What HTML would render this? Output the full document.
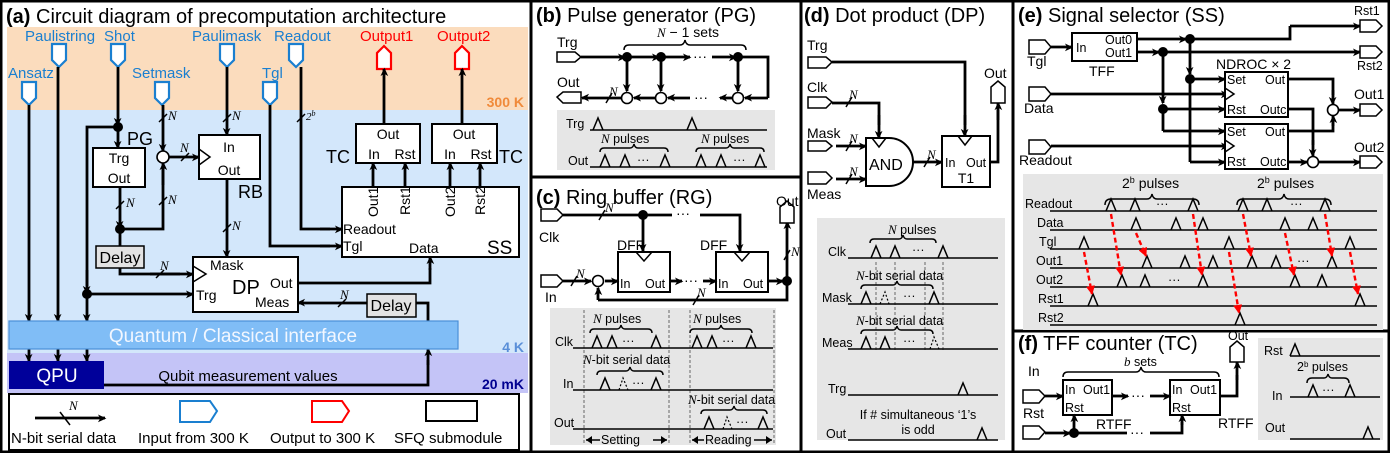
<!DOCTYPE html>
<html><head><meta charset="utf-8"><style>
html,body{margin:0;padding:0;background:#fff}
svg{display:block;font-family:"Liberation Sans",sans-serif}
</style></head><body>
<svg width="1390" height="453" viewBox="0 0 1390 453" xmlns="http://www.w3.org/2000/svg">
<defs>
<marker id="a" viewBox="0 0 10 10" refX="9" refY="5" markerWidth="7" markerHeight="7" orient="auto" markerUnits="userSpaceOnUse" style="overflow:visible"><path d="M-1,0 L10,5 L-1,10 L2,5 z" fill="#000" transform="scale(1.1)"/></marker>
<marker id="r" viewBox="0 0 10 10" refX="9" refY="5" markerWidth="9" markerHeight="9" orient="auto" markerUnits="userSpaceOnUse"><path d="M0,0 L10,5 L0,10 z" fill="#f00"/></marker>
</defs>
<style>
.w{stroke:#000;stroke-width:2.8;fill:none}
.wa{stroke:#000;stroke-width:2.8;fill:none;marker-end:url(#a)}
.t{stroke:#000;stroke-width:1.5;fill:none}
.bx{fill:#fff;stroke:#000;stroke-width:2}
.bi{fill:#fff;stroke:#1a7fd0;stroke-width:2.2}
.ro{fill:#fff;stroke:#f00;stroke-width:2.2}
.pin{fill:#fff;stroke:#000;stroke-width:1.5}
.d{fill:#000}
.c{fill:#fff;stroke:#000;stroke-width:1.6}
.bl{fill:#1a7fd0;font-size:15px}
.rd{fill:#f00;font-size:15px}
.l{font-size:14px}
.s{font-size:12.5px}
.i{font-family:"Liberation Serif",serif;font-style:italic;font-size:13px}
.g{fill:#e6e6e6}
.p{stroke:#000;stroke-width:1.5;fill:none}
.pd{stroke:#000;stroke-width:1.2;fill:none;stroke-dasharray:2,2}
.dv{stroke:#666;stroke-width:1;stroke-dasharray:3,2}
.rr{stroke:#f00;stroke-width:2.4;stroke-dasharray:5,3;fill:none;marker-end:url(#r)}
</style>
<rect x="1" y="1" width="1388" height="451" fill="none" stroke="#000" stroke-width="3"/>
<line x1="531" y1="0" x2="531" y2="453" stroke="#000" stroke-width="3"/>
<line x1="801" y1="0" x2="801" y2="453" stroke="#000" stroke-width="3"/>
<line x1="1013" y1="0" x2="1013" y2="453" stroke="#000" stroke-width="3"/>
<line x1="531" y1="177" x2="801" y2="177" stroke="#000" stroke-width="3"/>
<line x1="1013" y1="331" x2="1390" y2="331" stroke="#000" stroke-width="3"/>

<!-- ===== Panel A ===== -->
<text x="6" y="23" font-size="20"><tspan font-weight="bold">(a)</tspan> Circuit diagram of precomputation architecture</text>
<rect x="7" y="27" width="521" height="83" fill="#fbdcbd"/>
<rect x="7" y="110" width="521" height="243" fill="#d3e7fb"/>
<rect x="7" y="353" width="521" height="40" fill="#c4c4f7"/>
<text x="524" y="107" text-anchor="end" font-size="14" font-weight="bold" fill="#f08a3a">300 K</text>
<text x="524" y="352" text-anchor="end" font-size="14" font-weight="bold" fill="#5a8fd8">4 K</text>
<text x="524" y="389" text-anchor="end" font-size="14" font-weight="bold" fill="#000090">20 mK</text>

<text x="25" y="41" class="bl">Paulistring</text>
<text x="104" y="41" class="bl">Shot</text>
<text x="192" y="41" class="bl">Paulimask</text>
<text x="274" y="41" class="bl">Readout</text>
<text x="8" y="78" class="bl">Ansatz</text>
<text x="132" y="78" class="bl">Setmask</text>
<text x="262" y="78" class="bl">Tgl</text>
<text x="360" y="41" class="rd">Output1</text>
<text x="437" y="41" class="rd">Output2</text>
<g class="bi">
<polygon points="52,44 66,44 66,60 59,67 52,60"/>
<polygon points="111,44 125,44 125,60 118,67 111,60"/>
<polygon points="220,44 234,44 234,60 227,67 220,60"/>
<polygon points="289,44 303,44 303,60 296,67 289,60"/>
<polygon points="22,82 36,82 36,98 29,105 22,98"/>
<polygon points="155,82 169,82 169,98 162,105 155,98"/>
<polygon points="263,82 277,82 277,98 270,105 263,98"/>
</g>
<g class="ro">
<polygon points="377,69 391,69 391,53 384,46 377,53"/>
<polygon points="455,69 469,69 469,53 462,46 455,53"/>
</g>
<path class="wa" d="M29,105 V321"/>
<path class="wa" d="M58,67 V321"/>
<path class="wa" d="M118,67 V125"/>
<path class="w" d="M118,127 H87 V286"/>
<path class="wa" d="M87,270 V293"/>
<path class="wa" d="M87,294 V321"/>
<path class="wa" d="M87,294 H193"/>
<path class="wa" d="M29,349 V361"/><path class="wa" d="M58,349 V361"/><path class="wa" d="M87,349 V361"/>
<path class="wa" d="M118,127 V148"/>
<path class="wa" d="M120,187 V228"/>
<path class="w" d="M120,229 V246"/>
<path class="w" d="M120,229 H163 V165"/>
<path class="wa" d="M163,185 V163"/>
<path class="wa" d="M163,105 V151"/>
<path class="wa" d="M169,157 H199"/>
<path class="wa" d="M227,67 V135"/>
<path class="wa" d="M227,179 V257"/>
<path class="w" d="M120,268 V274 H180"/>
<path class="wa" d="M150,274 H193"/>
<path class="w" d="M270,105 V246 H330"/>
<path class="wa" d="M320,246 H342"/>
<path class="w" d="M301,67 V229 H330"/>
<path class="wa" d="M320,229 H342"/>
<path class="wa" d="M384,124 V69"/>
<path class="wa" d="M462,124 V69"/>
<path class="wa" d="M373,187 V163"/><path class="wa" d="M405,187 V163"/>
<path class="wa" d="M450,187 V163"/><path class="wa" d="M480,187 V163"/>
<path class="w" d="M298,283 H430 V268"/>
<path class="wa" d="M430,270 V257"/>
<path class="w" d="M428,321 V303 H416"/>
<path class="wa" d="M367,303 H298"/>
<path class="w" d="M104,385 H428 V360"/>
<path class="wa" d="M428,365 V349"/>
<circle cx="118" cy="127" r="5" class="d"/>
<circle cx="120" cy="229" r="5" class="d"/>
<circle cx="87" cy="294" r="5" class="d"/>
<circle cx="163" cy="157" r="6" class="c"/>
<g class="t">
<line x1="159" y1="122" x2="167" y2="114"/><line x1="223" y1="122" x2="231" y2="114"/>
<line x1="297" y1="122" x2="305" y2="114"/><line x1="116" y1="209" x2="124" y2="201"/>
<line x1="159" y1="205" x2="167" y2="197"/><line x1="181" y1="161" x2="189" y2="153"/>
<line x1="223" y1="232" x2="231" y2="224"/><line x1="156" y1="278" x2="164" y2="270"/>
<line x1="338" y1="307" x2="346" y2="299"/>
</g>
<g class="i">
<text x="168" y="120">N</text><text x="232" y="120">N</text><text x="126" y="207">N</text>
<text x="168" y="204">N</text><text x="180" y="152">N</text><text x="232" y="230">N</text>
<text x="160" y="270">N</text><text x="340" y="299">N</text>
<text x="306" y="120" font-size="11">2<tspan baseline-shift="super" font-size="8">b</tspan></text>
</g>
<rect x="93" y="148" width="52" height="39" class="bx"/>
<text x="119" y="163" class="l" text-anchor="middle">Trg</text>
<text x="119" y="183" class="l" text-anchor="middle">Out</text>
<text x="127" y="145" font-size="18">PG</text>
<rect x="199" y="135" width="61" height="44" class="bx"/>
<polyline points="199,149 210,157 199,165" class="t"/>
<text x="229" y="152" class="l" text-anchor="middle">In</text>
<text x="229" y="175" class="l" text-anchor="middle">Out</text>
<text x="238" y="198" font-size="18">RB</text>
<rect x="96" y="246" width="48" height="22" fill="#e3e3e3" stroke="#000" stroke-width="1.5"/>
<text x="120" y="263" font-size="16" text-anchor="middle">Delay</text>
<rect x="367" y="294" width="49" height="23" fill="#e3e3e3" stroke="#000" stroke-width="1.5"/>
<text x="391" y="311" font-size="16" text-anchor="middle">Delay</text>
<rect x="193" y="257" width="105" height="55" class="bx"/>
<polyline points="193,266 206,274 193,282" class="t"/>
<text x="210" y="270" class="l">Mask</text>
<text x="232" y="294" font-size="20">DP</text>
<text x="270" y="288" class="l">Out</text>
<text x="196" y="300" class="l">Trg</text>
<text x="255" y="307" class="l">Meas</text>
<rect x="356" y="124" width="64" height="39" class="bx"/>
<text x="388" y="139" class="l" text-anchor="middle">Out</text>
<text x="374" y="159" class="l" text-anchor="middle">In</text><text x="405" y="159" class="l" text-anchor="middle">Rst</text>
<text x="326" y="163" font-size="18">TC</text>
<rect x="432" y="124" width="65" height="39" class="bx"/>
<text x="464" y="139" class="l" text-anchor="middle">Out</text>
<text x="450" y="159" class="l" text-anchor="middle">In</text><text x="481" y="159" class="l" text-anchor="middle">Rst</text>
<text x="499" y="163" font-size="18">TC</text>
<rect x="342" y="187" width="177" height="70" class="bx"/>
<g class="l">
<text transform="translate(378,217) rotate(-90)">Out1</text>
<text transform="translate(410,215) rotate(-90)">Rst1</text>
<text transform="translate(455,217) rotate(-90)">Out2</text>
<text transform="translate(485,215) rotate(-90)">Rst2</text>
<text x="343" y="234">Readout</text><text x="343" y="251">Tgl</text><text x="409" y="253">Data</text>
</g>
<text x="487" y="254" font-size="19">SS</text>
<rect x="9" y="321" width="449" height="28" fill="#80bdf6" stroke="#4a8fd8" stroke-width="1.2"/>
<text x="233" y="342" font-size="19" fill="#f2f7ff" text-anchor="middle">Quantum / Classical interface</text>
<rect x="9" y="361" width="95" height="28" fill="#00009a"/>
<text x="57" y="382" font-size="19" fill="#fff" text-anchor="middle">QPU</text>
<text x="248" y="381" font-size="15" text-anchor="middle">Qubit measurement values</text>
<rect x="9" y="394" width="510" height="56" fill="#fff" stroke="#000" stroke-width="2"/>
<path class="wa" d="M35,418 H105"/><line x1="60" y1="412" x2="70" y2="425" class="t"/>
<text x="69" y="410" class="i" font-size="15">N</text>
<text x="11" y="443" font-size="15">N-bit serial data</text>
<polygon points="180,401 210,401 217,411 210,422 180,422" fill="#fff" stroke="#1a7fd0" stroke-width="2"/>
<text x="138" y="443" font-size="15">Input from 300 K</text>
<polygon points="312,401 342,401 349,411 342,422 312,422" fill="#fff" stroke="#f00" stroke-width="2"/>
<text x="270" y="443" font-size="15">Output to 300 K</text>
<rect x="426" y="401" width="51" height="20" class="bx"/>
<text x="394" y="443" font-size="15">SFQ submodule</text>

<!-- ===== Panel B ===== -->
<text x="536" y="22" font-size="20"><tspan font-weight="bold">(b)</tspan> Pulse generator (PG)</text>
<text x="557" y="47" class="l">Trg</text><text x="557" y="87" class="l">Out</text>
<polygon points="557,52 575,52 581,57 575,62 557,62" class="pin"/>
<polygon points="563,92 581,92 581,103 563,103 557,97" class="pin"/>
<path class="wa" d="M581,57 H625"/><path class="wa" d="M627,57 H659"/><path class="wa" d="M661,57 H690"/>
<text x="693" y="61" class="l">···</text>
<path class="wa" d="M712,57 H736"/>
<path class="w" d="M738,57 H768 V98"/><path class="wa" d="M768,98 H745"/>
<path class="wa" d="M627,57 V91"/><path class="wa" d="M661,57 V91"/><path class="wa" d="M738,57 V91"/>
<path class="wa" d="M732,98 H720"/><text x="694" y="102" class="l">···</text>
<path class="wa" d="M690,98 H668"/><path class="wa" d="M655,98 H634"/><path class="wa" d="M621,98 H582"/>
<line x1="606" y1="103" x2="612" y2="93" class="t"/><text x="609" y="96" class="i" font-size="11">N</text>
<circle cx="627" cy="57" r="5" class="d"/><circle cx="661" cy="57" r="5" class="d"/><circle cx="738" cy="57" r="5" class="d"/>
<circle cx="627" cy="98" r="5.5" class="c"/><circle cx="661" cy="98" r="5.5" class="c"/><circle cx="738" cy="98" r="5.5" class="c"/>
<path class="t" d="M624,50 q0,-5 5,-5 h51 q4,0 5,-5 q1,5 5,5 h51 q5,0 5,5"/>
<text x="657" y="37" class="l"><tspan class="i">N</tspan> − 1 sets</text>
<rect x="557" y="110" width="218" height="60" class="g"/>
<text x="566" y="128" class="s">Trg</text><line x1="590" y1="130" x2="767" y2="130" class="p"/>
<path class="p" d="M593,130 L598,118 L603,130 M687,130 L692,118 L697,130"/>
<text x="568" y="165" class="s">Out</text><line x1="590" y1="167" x2="767" y2="167" class="p"/>
<path class="p" d="M600,167 L605,155 L610,167 M620,167 L625,155 L630,167 M660,167 L665,155 L670,167 M696,167 L701,155 L706,167 M716,167 L721,155 L726,167 M755,167 L760,155 L765,167"/>
<text x="637" y="164" class="s">···</text><text x="733" y="164" class="s">···</text>
<path class="t" d="M600,152 q0,-4 4,-4 h26 q3,0 4,-4 q1,4 4,4 h26 q4,0 4,4 M696,152 q0,-4 4,-4 h26 q3,0 4,-4 q1,4 4,4 h26 q4,0 4,4"/>
<text x="601" y="143" class="s"><tspan class="i">N</tspan> pulses</text><text x="701" y="143" class="s"><tspan class="i">N</tspan> pulses</text>

<!-- ===== Panel C ===== -->
<text x="536" y="204" font-size="20"><tspan font-weight="bold">(c)</tspan> Ring buffer (RG)</text>
<polygon points="541,209 557,209 563,215 557,221 541,221" class="pin"/>
<text x="539" y="242" class="l">Clk</text>
<polygon points="541,275 557,275 563,281 557,287 541,287" class="pin"/>
<text x="545" y="302" class="l">In</text>
<path class="w" d="M563,215 H672"/><text x="676" y="218" class="l">···</text>
<path class="w" d="M700,215 H740 V240"/><path class="wa" d="M740,230 V251"/>
<path class="wa" d="M643,215 V251"/>
<circle cx="643" cy="215" r="5" class="d"/>
<line x1="599" y1="220" x2="605" y2="210" class="t"/><text x="605" y="212" class="i" font-size="11">N</text>
<text x="617" y="250" class="l">DFF</text><text x="700" y="250" class="l">DFF</text>
<rect x="618" y="252" width="52" height="40" class="bx"/>
<rect x="716" y="252" width="52" height="40" class="bx"/>
<polyline points="636,252 644,261 652,252" class="t"/><polyline points="734,252 742,261 750,252" class="t"/>
<text x="620" y="288" class="s">In</text><text x="645" y="288" class="s">Out</text>
<text x="718" y="288" class="s">In</text><text x="743" y="288" class="s">Out</text>
<path class="wa" d="M563,281 H591"/><path class="wa" d="M605,281 H618"/>
<line x1="571" y1="286" x2="577" y2="276" class="t"/><text x="576" y="278" class="i" font-size="11">N</text>
<path class="wa" d="M670,281 H682"/><text x="684" y="285" class="l">···</text><path class="wa" d="M703,281 H716"/>
<path class="wa" d="M768,281 H783"/>
<path class="w" d="M787,281 V300 H598"/><path class="wa" d="M598,300 V288"/>
<line x1="693" y1="305" x2="699" y2="295" class="t"/><text x="697" y="297" class="i" font-size="11">N</text>
<path class="wa" d="M787,281 V222"/>
<line x1="784" y1="260" x2="790" y2="250" class="t"/><text x="791" y="256" class="i" font-size="11">N</text>
<circle cx="787" cy="281" r="5" class="d"/><circle cx="598" cy="281" r="5.5" class="c"/>
<polygon points="780,223 794,223 794,207 787,201 780,207" class="pin"/>
<text x="776" y="206" class="l">Out</text>
<rect x="550" y="308" width="226" height="137" class="g"/>
<g class="dv"><line x1="584" y1="310" x2="584" y2="445"/><line x1="669" y1="310" x2="669" y2="445"/><line x1="690" y1="310" x2="690" y2="445"/><line x1="774" y1="310" x2="774" y2="445"/></g>
<text x="555" y="346" class="s">Clk</text><line x1="573" y1="348" x2="773" y2="348" class="p"/>
<path class="p" d="M592,348 L597,336 L602,348 M607,348 L612,336 L617,348 M651,348 L656,336 L661,348 M692,348 L697,336 L702,348 M707,348 L712,336 L717,348 M746,348 L751,336 L756,348"/>
<text x="622" y="345" class="s">···</text><text x="722" y="345" class="s">···</text>
<path class="t" d="M590,333 q0,-4 4,-4 h23 q3,0 4,-4 q1,4 4,4 h23 q4,0 4,4 M690,333 q0,-4 4,-4 h23 q3,0 4,-4 q1,4 4,4 h23 q4,0 4,4"/>
<text x="593" y="323" class="s"><tspan class="i">N</tspan> pulses</text><text x="693" y="323" class="s"><tspan class="i">N</tspan> pulses</text>
<text x="563" y="388" class="s">In</text><line x1="573" y1="390" x2="773" y2="390" class="p"/>
<path class="p" d="M600,390 L605,378 L610,390 M651,390 L656,378 L661,390"/><path class="pd" d="M619,390 L623,378 L628,390"/>
<text x="632" y="387" class="s">···</text>
<path class="t" d="M597,375 q0,-4 4,-4 h25 q3,0 4,-4 q1,4 4,4 h25 q4,0 4,4"/>
<text x="583" y="364" class="s"><tspan class="i">N</tspan>-bit serial data</text>
<text x="554" y="427" class="s">Out</text><line x1="573" y1="429" x2="773" y2="429" class="p"/>
<path class="p" d="M704,429 L709,417 L714,429 M758,429 L763,417 L768,429"/><path class="pd" d="M723,429 L727,417 L732,429"/>
<text x="736" y="426" class="s">···</text>
<path class="t" d="M701,414 q0,-4 4,-4 h25 q3,0 4,-4 q1,4 4,4 h25 q4,0 4,4"/>
<text x="688" y="404" class="s"><tspan class="i">N</tspan>-bit serial data</text>
<path class="t" d="M586,440 H600 M653,440 H667 M692,440 H704 M754,440 H772" stroke-width="2"/>
<path d="M586,440 l6,-4 v8z M667,440 l-6,-4 v8z M692,440 l6,-4 v8z M772,440 l-6,-4 v8z"/>
<text x="601" y="444" class="s">Setting</text><text x="705" y="444" class="s">Reading</text>

<!-- ===== Panel D ===== -->
<text x="804" y="22" font-size="20"><tspan font-weight="bold">(d)</tspan> Dot product (DP)</text>
<text x="807" y="50" class="l">Trg</text>
<polygon points="808,57 826,57 832,62 826,68 808,68" class="pin"/>
<text x="807" y="92" class="l">Clk</text>
<polygon points="808,97 826,97 832,102 826,108 808,108" class="pin"/>
<text x="807" y="138" class="l">Mask</text>
<polygon points="808,141 826,141 832,146 826,151 808,151" class="pin"/>
<polygon points="808,172 826,172 832,178 826,184 808,184" class="pin"/>
<text x="807" y="199" class="l">Meas</text>
<path class="w" d="M832,62 H965 V125"/><path class="wa" d="M965,115 V136"/>
<path class="w" d="M832,103 H879 V125"/><path class="wa" d="M879,115 V138"/>
<line x1="846" y1="107" x2="852" y2="97" class="t"/><text x="849" y="99" class="i" font-size="11">N</text>
<path class="wa" d="M836,146 H866"/><line x1="846" y1="151" x2="852" y2="141" class="t"/><text x="849" y="143" class="i" font-size="11">N</text>
<path class="wa" d="M836,179 H866"/><line x1="846" y1="184" x2="852" y2="174" class="t"/><text x="849" y="176" class="i" font-size="11">N</text>
<path d="M866,138 H889 A24,24 0 0 1 889,186 H866 Z" class="bx"/>
<polyline points="872,138 879,147 886,138" class="t"/>
<text x="869" y="170" font-size="16">AND</text>
<path class="wa" d="M913,162 H942"/><line x1="924" y1="167" x2="930" y2="157" class="t"/><text x="927" y="159" class="i" font-size="11">N</text>
<rect x="942" y="136" width="48" height="51" class="bx"/>
<polyline points="958,136 965,145 972,136" class="t"/>
<text x="945" y="167" class="s">In</text><text x="966" y="167" class="s">Out</text>
<text x="966" y="183" class="l" text-anchor="middle">T1</text>
<path class="w" d="M990,162 H998 V110"/><path class="wa" d="M998,120 V103"/>
<polygon points="991,103 1005,103 1005,87 998,81 991,87" class="pin"/>
<text x="984" y="78" class="l">Out</text>
<rect x="817" y="218" width="188" height="222" class="g"/>
<g class="dv"><line x1="876" y1="262" x2="876" y2="350"/><line x1="895" y1="262" x2="895" y2="350"/><line x1="925" y1="262" x2="925" y2="350"/><line x1="943" y1="262" x2="943" y2="350"/></g>
<text x="828" y="256" class="s">Clk</text><line x1="848" y1="258" x2="998" y2="258" class="p"/>
<path class="p" d="M871,258 L876,246 L881,258 M890,258 L895,246 L900,258 M938,258 L943,246 L948,258"/><text x="912" y="254" class="s">···</text>
<path class="t" d="M870,243 q0,-4 4,-4 h25 q3,0 4,-4 q1,4 4,4 h25 q4,0 4,4"/>
<text x="888" y="234" class="s"><tspan class="i">N</tspan> pulses</text>
<text x="822" y="302" class="s">Mask</text><line x1="848" y1="304" x2="998" y2="304" class="p"/>
<path class="p" d="M861,304 L866,292 L871,304 M929,304 L934,292 L939,304"/><path class="pd" d="M880,304 L885,292 L889,304"/><text x="903" y="300" class="s">···</text>
<path class="t" d="M861,289 q0,-4 4,-4 h28 q3,0 4,-4 q1,4 4,4 h28 q4,0 4,4"/>
<text x="856" y="280" class="s"><tspan class="i">N</tspan>-bit serial data</text>
<text x="822" y="347" class="s">Meas</text><line x1="848" y1="349" x2="998" y2="349" class="p"/>
<path class="p" d="M861,349 L866,337 L871,349 M880,349 L885,337 L890,349"/><path class="pd" d="M930,349 L934,337 L939,349"/><text x="903" y="345" class="s">···</text>
<path class="t" d="M861,334 q0,-4 4,-4 h28 q3,0 4,-4 q1,4 4,4 h28 q4,0 4,4"/>
<text x="856" y="325" class="s"><tspan class="i">N</tspan>-bit serial data</text>
<text x="828" y="393" class="s">Trg</text><line x1="848" y1="395" x2="998" y2="395" class="p"/>
<path class="p" d="M958,395 L963,383 L968,395"/>
<text x="918" y="419" class="s" text-anchor="middle">If # simultaneous ‘1’s</text>
<text x="918" y="434" class="s" text-anchor="middle">is odd</text>
<text x="826" y="438" class="s">Out</text><line x1="848" y1="440" x2="998" y2="440" class="p"/>
<path class="p" d="M977,440 L982,428 L987,440"/>

<!-- ===== Panel E ===== -->
<text x="1018" y="22" font-size="20"><tspan font-weight="bold">(e)</tspan> Signal selector (SS)</text>
<polygon points="1029,40 1045,40 1051,47 1045,54 1029,54" class="pin"/><text x="1027" y="66" class="l">Tgl</text>
<polygon points="1029,87 1045,87 1051,94 1045,101 1029,101" class="pin"/><text x="1024" y="113" class="l">Data</text>
<polygon points="1029,140 1045,140 1051,147 1045,154 1029,154" class="pin"/><text x="1019" y="165" class="l">Readout</text>
<path class="wa" d="M1051,47 H1072"/>
<rect x="1072" y="33" width="65" height="28" class="bx"/>
<text x="1076" y="52" class="s">In</text><text x="1105" y="44" class="s">Out0</text><text x="1105" y="57" class="s">Out1</text>
<text x="1089" y="76" class="l">TFF</text>
<path class="wa" d="M1137,39 H1186"/><path class="wa" d="M1137,52 H1159"/>
<path class="w" d="M1190,39 H1290 V26"/><path class="wa" d="M1290,26 H1360"/>
<path class="wa" d="M1163,52 H1360"/>
<path class="wa" d="M1190,39 V74"/><path class="wa" d="M1190,79 H1225"/>
<path class="w" d="M1190,79 V162"/><path class="wa" d="M1190,162 H1225"/>
<path class="wa" d="M1163,52 V103"/><path class="wa" d="M1163,109 H1225"/>
<path class="w" d="M1163,109 V131"/><path class="wa" d="M1163,131 H1225"/>
<path class="wa" d="M1051,94 H1228"/><path class="wa" d="M1051,146 H1228"/>
<circle cx="1190" cy="39" r="5" class="d"/><circle cx="1163" cy="52" r="5" class="d"/>
<circle cx="1190" cy="79" r="5" class="d"/><circle cx="1163" cy="109" r="5" class="d"/>
<rect x="1225" y="72" width="63" height="45" class="bx"/>
<rect x="1225" y="124" width="63" height="45" class="bx"/>
<polyline points="1225,88 1234,94 1225,100" class="t"/><polyline points="1225,140 1234,146 1225,152" class="t"/>
<text x="1216" y="69" class="l">NDROC × 2</text>
<g class="s"><text x="1227" y="84">Set</text><text x="1265" y="84">Out</text><text x="1227" y="114">Rst</text><text x="1260" y="114">Outc</text>
<text x="1227" y="136">Set</text><text x="1265" y="136">Out</text><text x="1227" y="166">Rst</text><text x="1260" y="166">Outc</text></g>
<path class="w" d="M1288,79 H1333 V95"/><path class="wa" d="M1333,90 V104"/>
<path class="w" d="M1288,131 H1333 V122"/><path class="wa" d="M1333,126 V116"/>
<path class="w" d="M1288,109 H1313 V145"/><path class="wa" d="M1313,140 V156"/>
<path class="wa" d="M1288,162 H1307"/>
<path class="wa" d="M1339,110 H1360"/><path class="wa" d="M1319,162 H1360"/>
<circle cx="1333" cy="110" r="5.5" class="c"/><circle cx="1313" cy="162" r="5.5" class="c"/>
<polygon points="1360,20 1376,20 1382,26 1376,32 1360,32" class="pin"/><text x="1354" y="15" class="s">Rst1</text>
<polygon points="1360,46 1376,46 1382,52 1376,58 1360,58" class="pin"/><text x="1357" y="70" class="s">Rst2</text>
<polygon points="1360,104 1376,104 1382,110 1376,116 1360,116" class="pin"/><text x="1354" y="99" class="l">Out1</text>
<polygon points="1360,156 1376,156 1382,162 1376,168 1360,168" class="pin"/><text x="1354" y="152" class="l">Out2</text>
<rect x="1023" y="174" width="360" height="156" class="g"/>
<g class="s">
<text x="1025" y="208">Readout</text><text x="1037" y="227">Data</text><text x="1039" y="246">Tgl</text>
<text x="1036" y="265">Out1</text><text x="1036" y="284">Out2</text><text x="1038" y="303">Rst1</text><text x="1038" y="322">Rst2</text>
</g>
<g class="p">
<line x1="1050" y1="211" x2="1377" y2="211"/><line x1="1050" y1="230" x2="1377" y2="230"/><line x1="1050" y1="249" x2="1377" y2="249"/>
<line x1="1050" y1="268" x2="1377" y2="268"/><line x1="1050" y1="287" x2="1377" y2="287"/><line x1="1050" y1="306" x2="1377" y2="306"/><line x1="1050" y1="325" x2="1377" y2="325"/>
<path d="M1106,211 l5,-12 l5,12 M1130,211 l5,-12 l5,12 M1188,211 l5,-12 l5,12 M1238,211 l5,-12 l5,12 M1262,211 l5,-12 l5,12 M1320,211 l5,-12 l5,12"/>
<path d="M1131,230 l5,-12 l5,12 M1171,230 l5,-12 l5,12 M1198,230 l5,-12 l5,12 M1280,230 l5,-12 l5,12 M1308,230 l5,-12 l5,12"/>
<path d="M1079,249 l5,-12 l5,12 M1224,249 l5,-12 l5,12 M1345,249 l5,-12 l5,12"/>
<path d="M1142,268 l5,-12 l5,12 M1180,268 l5,-12 l5,12 M1208,268 l5,-12 l5,12 M1247,268 l5,-12 l5,12 M1271,268 l5,-12 l5,12 M1327,268 l5,-12 l5,12"/>
<path d="M1117,287 l5,-12 l5,12 M1140,287 l5,-12 l5,12 M1198,287 l5,-12 l5,12 M1290,287 l5,-12 l5,12 M1317,287 l5,-12 l5,12"/>
<path d="M1088,306 l5,-12 l5,12 M1355,306 l5,-12 l5,12"/>
<path d="M1235,325 l5,-12 l5,12"/>
</g>
<g class="s"><text x="1156" y="208">···</text><text x="1290" y="208">···</text><text x="1297" y="265">···</text><text x="1168" y="284">···</text></g>
<path class="t" d="M1105,205 q0,-6 6,-6 h36 q4,0 5,-5 q1,5 5,5 h36 q6,0 6,6 M1237,205 q0,-6 6,-6 h36 q4,0 5,-5 q1,5 5,5 h36 q6,0 6,6"/>
<text x="1122" y="188" class="l">2<tspan baseline-shift="super" font-size="9">b</tspan> pulses</text>
<text x="1257" y="188" class="l">2<tspan baseline-shift="super" font-size="9">b</tspan> pulses</text>
<path class="rr" d="M1084,252 L1092,294"/><path class="rr" d="M1111,214 L1121,275"/><path class="rr" d="M1136,233 L1146,256"/>
<path class="rr" d="M1193,214 L1202,275"/><path class="rr" d="M1229,252 L1239,313"/><path class="rr" d="M1243,214 L1251,256"/>
<path class="rr" d="M1285,233 L1294,275"/><path class="rr" d="M1325,214 L1332,256"/><path class="rr" d="M1350,252 L1358,294"/>

<!-- ===== Panel F ===== -->
<text x="1018" y="350" font-size="20"><tspan font-weight="bold">(f)</tspan> TFF counter (TC)</text>
<text x="1028" y="376" class="l">In</text>
<polygon points="1023,390 1039,390 1045,396 1039,403 1023,403" class="pin"/>
<text x="1023" y="418" class="l">Rst</text>
<polygon points="1023,426 1039,426 1045,432 1039,439 1023,439" class="pin"/>
<path class="wa" d="M1045,396 H1063"/>
<rect x="1063" y="380" width="49" height="35" class="bx"/>
<rect x="1170" y="380" width="50" height="35" class="bx"/>
<g class="s"><text x="1065" y="394">In</text><text x="1083" y="394">Out1</text><text x="1065" y="412">Rst</text>
<text x="1172" y="394">In</text><text x="1190" y="394">Out1</text><text x="1172" y="412">Rst</text></g>
<path class="wa" d="M1112,396 H1128"/><text x="1131" y="400" class="l">···</text><path class="wa" d="M1150,396 H1170"/>
<path class="w" d="M1220,396 H1237 V375"/><path class="wa" d="M1237,380 V362"/>
<polygon points="1230,362 1244,362 1244,347 1237,341 1230,347" class="pin"/>
<text x="1228" y="340" class="s">Out</text>
<path class="wa" d="M1045,433 H1070"/>
<path class="w" d="M1074,433 H1127"/><text x="1130" y="437" class="l">···</text>
<path class="w" d="M1150,433 H1182 V422"/><path class="wa" d="M1182,425 V415"/>
<path class="wa" d="M1074,433 V415"/>
<circle cx="1074" cy="433" r="5" class="d"/>
<text x="1096" y="429" class="l">RTFF</text><text x="1218" y="428" class="l">RTFF</text>
<path class="t" d="M1063,377 q0,-5 5,-5 h68 q4,0 5,-5 q1,5 5,5 h68 q5,0 5,5"/>
<text x="1124" y="366" class="s"><tspan class="i">b</tspan> sets</text>
<rect x="1258" y="338" width="125" height="102" class="g"/>
<text x="1264" y="355" class="s">Rst</text><line x1="1290" y1="356" x2="1380" y2="356" class="p"/><path class="p" d="M1290,356 l5,-12 l5,12"/>
<text x="1272" y="400" class="s">In</text><line x1="1290" y1="397" x2="1380" y2="397" class="p"/>
<path class="p" d="M1308,397 l5,-12 l5,12 M1345,397 l5,-12 l5,12"/><text x="1322" y="394" class="s">···</text>
<path class="t" d="M1307,383 q0,-5 5,-5 h12 q3,0 4,-4 q1,4 4,4 h12 q5,0 5,5"/>
<text x="1297" y="371" class="s">2<tspan baseline-shift="super" font-size="8">b</tspan> pulses</text>
<text x="1265" y="432" class="s">Out</text><line x1="1290" y1="439" x2="1380" y2="439" class="p"/><path class="p" d="M1363,439 l5,-12 l5,12"/>
</svg>
</body></html>
